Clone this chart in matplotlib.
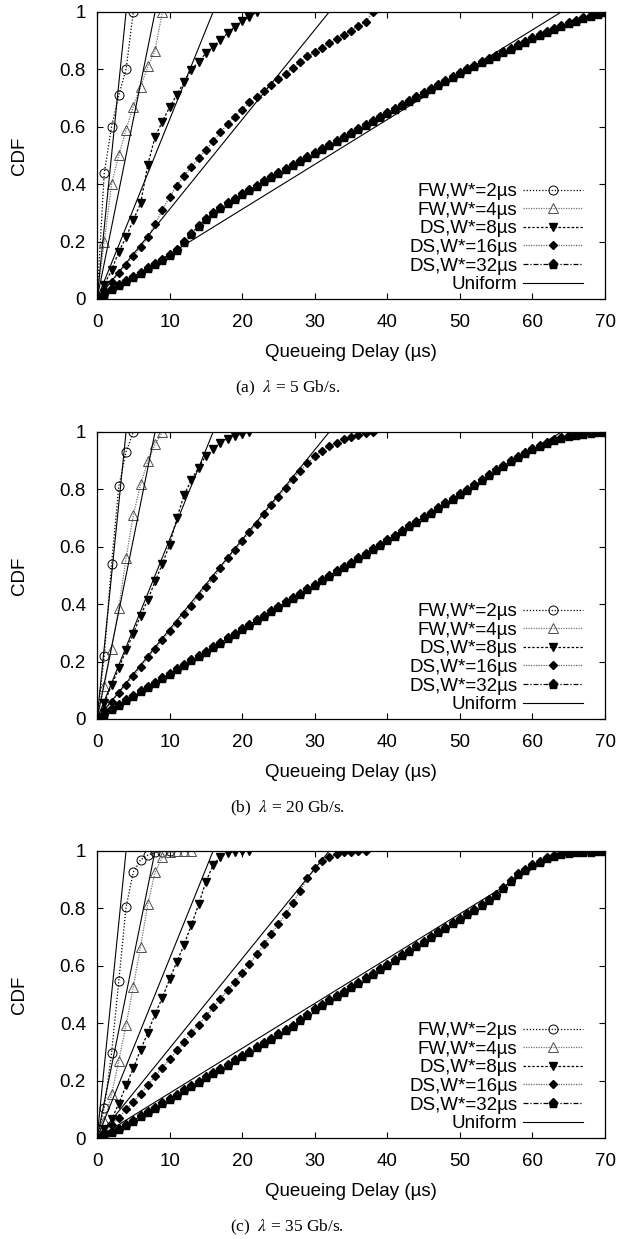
import numpy as np
import matplotlib
matplotlib.use("Agg")
import matplotlib.pyplot as plt

plt.rcParams['font.family'] = ['Liberation Sans', 'DejaVu Sans']
plt.rcParams['mathtext.fontset'] = 'stix'

# uniform reference: CDF of U[0, end]
uniform_end = [4, 8, 16, 32, 64]

# ---- (a) lambda = 5 Gb/s
fw2_a_x = [0, 1, 2, 3, 4, 5]
fw2_a_y = [0, 0.44, 0.60, 0.71, 0.80, 1.0]
fw4_a_x = [0, 1, 2, 3, 4, 5, 6, 7, 8, 9]
fw4_a_y = [0, 0.20, 0.40, 0.50, 0.59, 0.67, 0.74, 0.81, 0.865, 1.0]
ds8_a_y = [0, 0.05, 0.10, 0.165, 0.215, 0.275, 0.333, 0.468, 0.565, 0.618, 0.668,
           0.711, 0.757, 0.798, 0.827, 0.856, 0.879, 0.902, 0.926, 0.949, 0.967,
           0.983, 1.0]
ds16_a_y = [0, 0.03, 0.06, 0.09, 0.12, 0.15, 0.18, 0.215, 0.26, 0.31, 0.355, 0.395,
            0.43, 0.46, 0.49, 0.52, 0.55, 0.58, 0.61, 0.635, 0.66, 0.685, 0.705,
            0.725, 0.745, 0.765, 0.785, 0.805, 0.825, 0.845, 0.86, 0.875, 0.89,
            0.905, 0.92, 0.935, 0.95, 0.965, 1.0]
ds32_a_y = [0, 0.018, 0.033, 0.047, 0.062, 0.077, 0.092, 0.107, 0.122, 0.137, 0.152,
            0.17, 0.20, 0.228, 0.255, 0.278, 0.298, 0.316, 0.333, 0.349, 0.364,
            0.38, 0.395, 0.41, 0.424, 0.438, 0.452, 0.466, 0.48, 0.494, 0.508,
            0.522, 0.536, 0.55, 0.564, 0.578, 0.592, 0.606, 0.62, 0.634, 0.648,
            0.662, 0.676, 0.69, 0.704, 0.718, 0.732, 0.746, 0.76, 0.774, 0.788,
            0.80, 0.812, 0.824, 0.836, 0.848, 0.86, 0.872, 0.884, 0.896, 0.908,
            0.92, 0.93, 0.94, 0.95, 0.96, 0.97, 0.978, 0.986, 0.993, 1.0]

# ---- (b) lambda = 20 Gb/s
fw2_b_x = [0, 1, 2, 3, 4, 5]
fw2_b_y = [0, 0.22, 0.54, 0.81, 0.93, 1.0]
fw4_b_x = [0, 1, 2, 3, 4, 5, 6, 7, 8, 9]
fw4_b_y = [0, 0.116, 0.245, 0.388, 0.56, 0.71, 0.818, 0.897, 0.957, 1.0]
ds8_b_y = [0, 0.055, 0.118, 0.176, 0.24, 0.297, 0.36, 0.416, 0.479, 0.54, 0.607,
           0.70, 0.78, 0.833, 0.876, 0.917, 0.94, 0.963, 0.977, 0.987, 0.993, 1.0]
ds16_b_y = [0, 0.03, 0.06, 0.09, 0.12, 0.15, 0.18, 0.215, 0.245, 0.275, 0.305,
            0.335, 0.365, 0.395, 0.43, 0.46, 0.49, 0.525, 0.56, 0.59, 0.62, 0.65,
            0.68, 0.715, 0.745, 0.775, 0.805, 0.835, 0.865, 0.89, 0.915, 0.935,
            0.95, 0.963, 0.975, 0.983, 0.99, 0.995, 1.0]
ds32_b_y = [0, 0.018, 0.034, 0.049, 0.065, 0.08, 0.096, 0.111, 0.127, 0.142, 0.158,
            0.173, 0.189, 0.204, 0.22, 0.235, 0.251, 0.266, 0.282, 0.297, 0.313,
            0.328, 0.344, 0.359, 0.375, 0.39, 0.406, 0.421, 0.437, 0.452, 0.468,
            0.483, 0.499, 0.514, 0.53, 0.545, 0.561, 0.576, 0.592, 0.607, 0.623,
            0.639, 0.655, 0.671, 0.687, 0.703, 0.719, 0.735, 0.751, 0.767, 0.783,
            0.799, 0.815, 0.832, 0.849, 0.866, 0.882, 0.898, 0.913, 0.927, 0.94,
            0.952, 0.962, 0.971, 0.979, 0.985, 0.99, 0.994, 0.997, 0.999, 1.0]

# ---- (c) lambda = 35 Gb/s
fw2_c_x = [0, 1, 2, 3, 4, 5, 6, 7, 8, 9, 10]
fw2_c_y = [0, 0.106, 0.295, 0.547, 0.804, 0.926, 0.969, 0.985, 0.995, 0.998, 1.0]
fw4_c_x = [0, 1, 2, 3, 4, 5, 6, 7, 8, 9, 10, 11, 12, 13]
fw4_c_y = [0, 0.06, 0.152, 0.27, 0.394, 0.527, 0.667, 0.815, 0.926, 0.978, 0.995,
           1.0, 1.0, 1.0]
ds8_c_y = [0, 0.03, 0.065, 0.12, 0.183, 0.243, 0.307, 0.367, 0.432, 0.489, 0.553,
           0.614, 0.674, 0.742, 0.814, 0.893, 0.951, 0.98, 0.993, 0.997, 0.999, 1.0]
ds16_c_y = [0, 0.02, 0.045, 0.07, 0.1, 0.125, 0.155, 0.185, 0.215, 0.245, 0.275,
            0.305, 0.335, 0.365, 0.395, 0.425, 0.455, 0.485, 0.515, 0.545, 0.575,
            0.605, 0.64, 0.675, 0.71, 0.745, 0.78, 0.82, 0.862, 0.905, 0.94, 0.965,
            0.98, 0.99, 0.995, 0.998, 1.0, 1.0]
ds32_c_y = [0, 0.01, 0.02, 0.033, 0.047, 0.061, 0.076, 0.091, 0.106, 0.121, 0.136,
            0.151, 0.166, 0.181, 0.196, 0.211, 0.226, 0.241, 0.256, 0.271, 0.286,
            0.301, 0.316, 0.331, 0.346, 0.361, 0.376, 0.391, 0.41, 0.43, 0.45,
            0.465, 0.48, 0.495, 0.51, 0.525, 0.54, 0.556, 0.572, 0.588, 0.604,
            0.62, 0.636, 0.652, 0.668, 0.684, 0.7, 0.716, 0.732, 0.748, 0.764,
            0.78, 0.796, 0.812, 0.83, 0.848, 0.87, 0.895, 0.918, 0.935, 0.951,
            0.963, 0.974, 0.982, 0.988, 0.992, 0.995, 0.997, 0.998, 0.999, 1.0]

panels = [
    ("(a)", "5", fw2_a_x, fw2_a_y, fw4_a_x, fw4_a_y, ds8_a_y, ds16_a_y, ds32_a_y),
    ("(b)", "20", fw2_b_x, fw2_b_y, fw4_b_x, fw4_b_y, ds8_b_y, ds16_b_y, ds32_b_y),
    ("(c)", "35", fw2_c_x, fw2_c_y, fw4_c_x, fw4_c_y, ds8_c_y, ds16_c_y, ds32_c_y),
]

labels = ["FW,W*=2\u00b5s", "FW,W*=4\u00b5s", "DS,W*=8\u00b5s",
          "DS,W*=16\u00b5s", "DS,W*=32\u00b5s", "Uniform"]

fig = plt.figure(figsize=(6.18, 12.39), dpi=100)
ax_bottoms = [0.7587, 0.4197, 0.0815]
caption_y = [388, 808, 1227]

for i, (tag, lam, f2x, f2y, f4x, f4y, d8, d16, d32) in enumerate(panels):
    ax = fig.add_axes([0.157, ax_bottoms[i], 0.822, 0.2317])

    h1, = ax.plot(f2x, f2y, color="black", lw=0.9, ls=(0, (1, 1.5)),
                  marker="o", ms=6.5, mfc="none", mec="black", mew=0.7)
    h2, = ax.plot(f4x, f4y, color="0.45", lw=0.9, ls=(0, (1, 1)),
                  marker="^", ms=6.5, mfc="none", mec="0.3", mew=0.7)
    h3, = ax.plot(np.arange(len(d8)), d8, color="black", lw=0.9, ls=(0, (2, 1.5)),
                  marker="v", ms=5.5, mfc="black", mec="black")
    h4, = ax.plot(np.arange(len(d16)), d16, color="0.4", lw=0.9, ls=(0, (1, 1)),
                  marker="D", ms=4.3, mfc="black", mec="black")
    h5, = ax.plot(np.arange(len(d32)), d32, color="black", lw=0.9,
                  ls=(0, (4, 1.5, 1, 1.5)),
                  marker="p", ms=6.5, mfc="black", mec="black")
    for w in uniform_end:
        hu, = ax.plot([0, w], [0, 1], color="black", lw=0.8)

    ax.set_xlim(0, 70)
    ax.set_ylim(0, 1)
    ax.set_xticks(np.arange(0, 71, 10))
    ax.set_yticks([0, 0.2, 0.4, 0.6, 0.8, 1.0])
    ax.set_yticklabels(["0", "0.2", "0.4", "0.6", "0.8", "1"])
    ax.tick_params(direction="in", length=4.5, width=0.8, top=True, right=True,
                   labelsize=13.5)
    ax.tick_params(axis="x", pad=11)
    ax.tick_params(axis="y", pad=8)
    for s in ax.spines.values():
        s.set_linewidth(0.9)
    ax.set_xlabel("Queueing Delay (\u00b5s)", fontsize=13.5, labelpad=9)
    ax.set_ylabel("CDF", fontsize=13.5, labelpad=23)

    leg = ax.legend([h1, h2, h3, h4, h5, hu], labels, loc="lower right",
                    bbox_to_anchor=(0.957, 0.02), frameon=False, markerfirst=False,
                    fontsize=13.5, handlelength=3.2, handletextpad=0.3,
                    labelspacing=0.08, borderpad=0, borderaxespad=0)

    fig.text(0.465, 1 - caption_y[i] / 1239,
             tag + r"  $\lambda$ = " + lam + " Gb/s.",
             ha="center", va="center", fontsize=12.5, family="Liberation Serif")

fig.savefig("out.png", dpi=100)
